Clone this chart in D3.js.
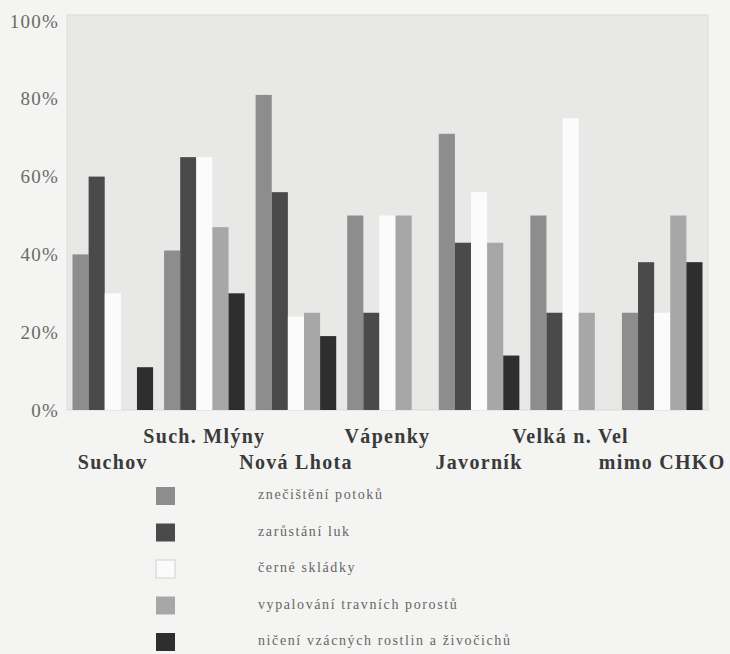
<!DOCTYPE html>
<html><head><meta charset="utf-8">
<script src="https://cdn.jsdelivr.net/npm/d3@7"></script>
<style>body{margin:0;background:#f4f4f3;} svg{display:block;}</style>
</head><body>
<script>
const categories = ["Suchov","Such. Mlýny","Nová Lhota","Vápenky","Javorník","Velká n. Vel","mimo CHKO"];
const seriesNames = ["znečištění potoků","zarůstání luk","černé skládky","vypalování travních porostů","ničení vzácných rostlin a živočichů"];
const znecisteni = [40, 41, 81, 50, 71, 50, 25];
const zarustani  = [60, 65, 56, 25, 43, 25, 38];
const skladky    = [30, 65, 24, 50, 56, 75, 25];
const vypalovani = [0, 47, 25, 50, 43, 25, 50];
const niceni     = [11, 30, 19, 0, 14, 0, 38];
const yTicks = [0, 20, 40, 60, 80, 100];
const colors = ["#8d8d8d","#4a4a4a","#fbfbfb","#a7a7a7","#2e2e2e"];

const series = [znecisteni, zarustani, skladky, vypalovani, niceni];
const W = 730, H = 654;
const m = {left: 67, right: 22, top: 15, bottom: 244};
const svg = d3.select("body").append("svg").attr("width", W).attr("height", H);

const x0 = d3.scaleBand().domain(categories).range([m.left, W - m.right]).paddingInner(0.12).paddingOuter(0.06);
const x1 = d3.scaleBand().domain(d3.range(series.length)).range([0, x0.bandwidth()]);
const y = d3.scaleLinear().domain([0, 100]).range([410, 21]);

svg.append("rect").attr("x", m.left).attr("y", m.top).attr("width", W - m.right - m.left).attr("height", 410 - m.top)
  .attr("fill", "#e8e8e7").attr("stroke", "#d9d9d9");

const g = svg.append("g");
categories.forEach((c, i) => {
  series.forEach((s, k) => {
    if (s[i] <= 0) return;
    g.append("rect")
      .attr("x", x0(c) + x1(k))
      .attr("y", y(s[i]))
      .attr("width", x1.bandwidth())
      .attr("height", y(0) - y(s[i]))
      .attr("fill", colors[k]);
  });
});

// y axis
const yAxis = d3.axisLeft(y).tickValues(yTicks).tickFormat(d => d + "%").tickSize(0).tickPadding(8);
const ya = svg.append("g").attr("transform", `translate(${m.left},0)`).call(yAxis);
ya.select(".domain").remove();
ya.selectAll("text").attr("font-family", "Liberation Serif, serif").attr("font-size", 19)
  .attr("letter-spacing", 1.2).attr("fill", "#6a6a6a");

// x axis labels, staggered
const xAxis = d3.axisBottom(x0).tickSize(0).tickPadding(0);
const xa = svg.append("g").attr("transform", `translate(0,410)`).call(xAxis);
xa.select(".domain").remove();
xa.selectAll("text")
  .attr("y", (d, i) => i % 2 === 1 ? 33 : 59)
  .attr("dy", 0)
  .attr("font-family", "Liberation Serif, serif").attr("font-weight", "bold").attr("font-size", 20)
  .attr("letter-spacing", 1.3).attr("fill", "#3a3a3a");

// legend
const lg = svg.append("g");
seriesNames.forEach((n, k) => {
  const cy = 496 + k * 36.5;
  lg.append("rect").attr("x", 156).attr("y", cy - 9).attr("width", 19).attr("height", 18)
    .attr("fill", colors[k]).attr("stroke", k === 2 ? "#d0d0d0" : "none");
  lg.append("text").attr("x", 258).attr("y", cy + 3).text(n)
    .attr("font-family", "Liberation Serif, serif").attr("font-size", 14)
    .attr("letter-spacing", 1.6).attr("fill", "#666");
});
</script>
</body></html>
